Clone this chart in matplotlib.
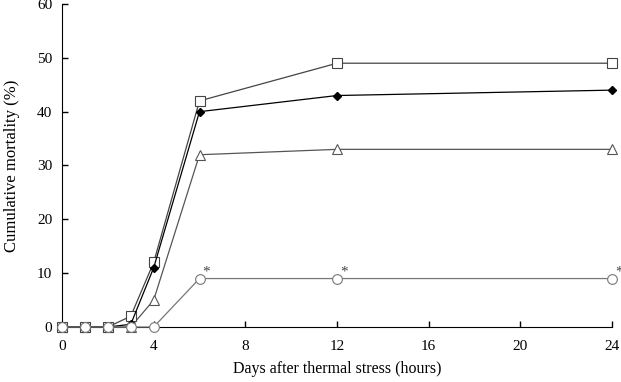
import matplotlib
matplotlib.use("Agg")
import matplotlib.pyplot as plt

hours = [0, 1, 2, 3, 4, 6, 12, 24]
square = [0, 0, 0, 2, 12, 42, 49, 49]
diamond = [0, 0, 0, 0.5, 11, 40, 43, 44]
triangle = [0, 0, 0, 0, 5, 32, 33, 33]
circle = [0, 0, 0, 0, 0, 9, 9, 9]
star_x = [6, 12, 24]

xticks = [0, 4, 8, 12, 16, 20, 24]
yticks = [0, 10, 20, 30, 40, 50, 60]

plt.rcParams['font.family'] = ['Liberation Serif', 'DejaVu Serif']

fig = plt.figure(figsize=(6.21, 3.82), dpi=100)
ax = fig.add_axes([62/621, 55/382, 550/621, 323/382])

ax.plot(hours, triangle, color='#555555', lw=0.9, marker='^', ms=7, mfc='white', mec='#555555', mew=0.8, zorder=3)
ax.plot(hours, square, color='#444444', lw=0.9, marker='s', ms=6.5, mfc='white', mec='#444444', mew=0.8, zorder=4)
ax.plot(hours, diamond, color='black', lw=0.9, marker='D', ms=4.5, mfc='black', mec='black', zorder=5)
ax.plot(hours, circle, color='#777777', lw=0.9, marker='o', ms=7, mfc='white', mec='#777777', mew=0.8, zorder=6)

for x in star_x:
    y = circle[hours.index(x)]
    ax.annotate('*', (x, y), xytext=(2, 2), textcoords='offset points', fontsize=11, color='#444444',
                annotation_clip=False)

ax.set_xlim(0, 24)
ax.set_ylim(0, 60)
ax.set_xticks(xticks)
ax.set_yticks(yticks)
ax.tick_params(direction='in', labelsize=11, length=4, width=1)
ax.tick_params(axis='x', pad=9)
ax.tick_params(axis='y', pad=7)
for s in ['top', 'right']:
    ax.spines[s].set_visible(False)
ax.set_xlabel('Days after thermal stress (hours)', fontsize=11.5, labelpad=6)
ax.set_ylabel('Cumulative mortality (%)', fontsize=12, labelpad=12)
for l in ax.lines:
    l.set_clip_on(False)

fig.savefig('out.png', dpi=100)
